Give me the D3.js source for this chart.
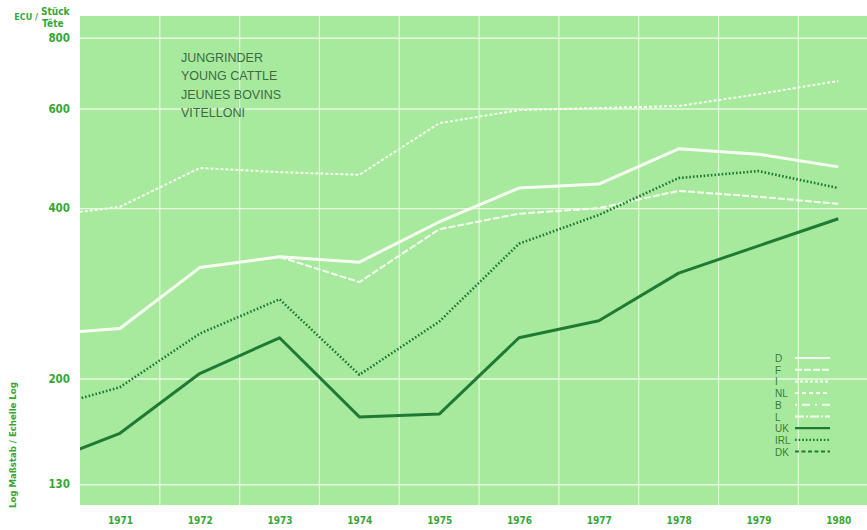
<!DOCTYPE html>
<html>
<head>
<meta charset="utf-8">
<script src="https://cdn.jsdelivr.net/npm/d3@7"></script>
<style>
  html, body { margin: 0; padding: 0; background: #ffffff; }
  svg { display: block; }
</style>
</head>
<body>
<svg id="chart" width="867" height="530"></svg>
<script>
// ---- data (ECU / head, log scale) ----
const years = [1970, 1971, 1972, 1973, 1974, 1975, 1976, 1977, 1978, 1979, 1980];
const yearLabels = ["1971", "1972", "1973", "1974", "1975", "1976", "1977", "1978", "1979", "1980"];
const yTicks = [130, 200, 400, 600, 800];
const seriesD   = [239, 245, 314, 328, 321, 378, 434, 441, 509, 498, 473];
const seriesF   = [239, 245, 314, 328, 296, 367, 391, 400, 429, 419, 407];
const seriesI   = [386, 402, 471, 463, 458, 565, 596, 601, 606, 636, 671];
const seriesUK  = [141, 160, 204, 236, 171, 173, 236, 253, 307, 343, 383];
const seriesIRL = [176, 193, 240, 276, 203, 252, 346, 389, 452, 465, 434];
const legendKeys = ["D", "F", "I", "NL", "B", "L", "UK", "IRL", "DK"];
const titleLines = ["JUNGRINDER", "YOUNG CATTLE", "JEUNES BOVINS", "VITELLONI"];

// ---- styles ----
const WHITE = "#f7fff2";
const DARK = "#1f7a34";
const styles = {
  D:   {color: WHITE, width: 3,   dash: null},
  F:   {color: WHITE, width: 2,   dash: "7,2"},
  I:   {color: WHITE, width: 2,   dash: "3,2"},
  NL:  {color: WHITE, width: 2,   dash: "4,3"},
  B:   {color: WHITE, width: 2,   dash: "2,5,8,5"},
  L:   {color: WHITE, width: 2,   dash: "9,2,2,2"},
  UK:  {color: DARK,  width: 3,   dash: null},
  IRL: {color: DARK,  width: 2.6, dash: "1.6,2"},
  DK:  {color: DARK,  width: 2,   dash: "4,2.5"}
};
const drawn = [
  {key: "I", values: seriesI},
  {key: "D", values: seriesD},
  {key: "F", values: seriesF},
  {key: "IRL", values: seriesIRL},
  {key: "UK", values: seriesUK}
];

const svg = d3.select("#chart");
const pLeft = 80, pRight = 867, pTop = 16, pBottom = 505;
const axisFont = "'DejaVu Sans Condensed', 'Liberation Sans Narrow', sans-serif";
const axisColor = "#36a639";

const x = d3.scaleLinear().domain([1970.5, 1980.36]).range([pLeft, pRight]);
const y = d3.scaleLog().domain([119.5, 874]).range([pBottom, pTop]);

// background
svg.append("rect").attr("x", pLeft).attr("y", pTop)
  .attr("width", pRight - pLeft).attr("height", pBottom - pTop)
  .attr("fill", "#a7ea9e");

svg.append("defs").append("clipPath").attr("id", "plotclip")
  .append("rect").attr("x", pLeft).attr("y", pTop)
  .attr("width", pRight - pLeft).attr("height", pBottom - pTop);

// vertical grid lines between years
const bounds = years.slice(1).map(v => v + 0.5).filter(v => x(v) < pRight);
svg.append("g").selectAll("line").data(bounds).join("line")
  .attr("x1", d => x(d)).attr("x2", d => x(d))
  .attr("y1", pTop).attr("y2", pBottom)
  .attr("stroke", "#f2fbe9").attr("stroke-width", 1.2).attr("opacity", 0.85);

// y axis with horizontal grid
const yAxis = d3.axisLeft(y).tickValues(yTicks).tickFormat(d3.format("d"))
  .tickSize(-(pRight - pLeft)).tickPadding(10);
const yg = svg.append("g").attr("transform", `translate(${pLeft},0)`).call(yAxis);
yg.select(".domain").remove();
yg.selectAll(".tick line").attr("stroke", "#f2fbe9").attr("stroke-width", 1.4).attr("opacity", 0.9);
yg.selectAll(".tick text").attr("fill", axisColor)
  .style("font-family", axisFont)
  .style("font-size", "11.5px").style("font-weight", "600");

// x axis labels
const xAxis = d3.axisBottom(x).tickValues(yearLabels.map(Number)).tickFormat(d3.format("d"))
  .tickSize(0).tickPadding(12);
const xg = svg.append("g").attr("transform", `translate(0,${pBottom})`).call(xAxis);
xg.select(".domain").remove();
xg.selectAll(".tick text").attr("fill", axisColor)
  .style("font-family", axisFont)
  .style("font-size", "10px").style("font-weight", "600");

// lines
const line = d3.line().x((d, i) => x(years[i])).y(d => y(d));
const lg = svg.append("g").attr("clip-path", "url(#plotclip)");
drawn.forEach(s => {
  const st = styles[s.key];
  lg.append("path").datum(s.values)
    .attr("d", line)
    .attr("fill", "none")
    .attr("stroke", st.color)
    .attr("stroke-width", st.width)
    .attr("stroke-dasharray", st.dash)
    .attr("stroke-linejoin", "round");
});

// title block
const tg = svg.append("g");
titleLines.forEach((t, i) => {
  tg.append("text").attr("x", 181).attr("y", 62 + i * 18.3).text(t)
    .attr("fill", "#3d6a44")
    .style("font-family", "'Liberation Sans', Arial, sans-serif")
    .style("font-size", "12.5px");
});

// unit label
svg.append("text").attr("x", 38).attr("y", 20).attr("text-anchor", "end").text("ECU /")
  .attr("fill", axisColor).style("font-family", axisFont).style("font-size", "9px").style("font-weight", "600");
svg.append("text").attr("x", 41).attr("y", 15).text("Stück")
  .attr("fill", axisColor).style("font-family", axisFont).style("font-size", "10px").style("font-weight", "600");
svg.append("text").attr("x", 42).attr("y", 27).text("Tête")
  .attr("fill", axisColor).style("font-family", axisFont).style("font-size", "10px").style("font-weight", "600");

// rotated log label
svg.append("text").attr("transform", "translate(16,508) rotate(-90)")
  .text("Log Maßstab / Echelle Log")
  .attr("fill", axisColor).style("font-family", axisFont).style("font-size", "9.5px").style("font-weight", "600");

// legend
const leg = svg.append("g");
legendKeys.forEach((k, i) => {
  const yy = 358 + i * 11.7;
  const st = styles[k];
  leg.append("text").attr("x", 775).attr("y", yy + 4).text(k)
    .attr("fill", "#3d7a40")
    .style("font-family", "'Liberation Sans', Arial, sans-serif")
    .style("font-size", "10px");
  leg.append("line").attr("x1", 795).attr("x2", 830).attr("y1", yy).attr("y2", yy)
    .attr("stroke", st.color).attr("stroke-width", Math.min(st.width, 2.2))
    .attr("stroke-dasharray", st.dash);
});
</script>
</body>
</html>
